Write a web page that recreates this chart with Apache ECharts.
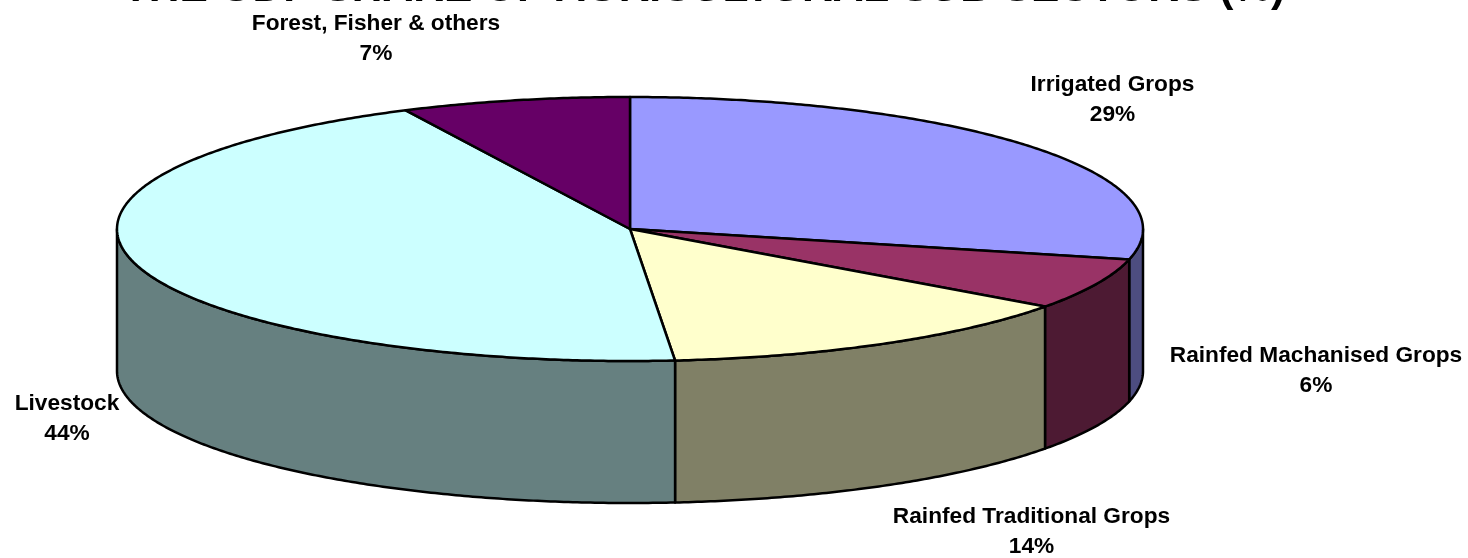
<!DOCTYPE html>
<html>
<head>
<meta charset="utf-8">
<style>
  html, body { margin: 0; padding: 0; background: #fff; }
  #chartBox { width: 1468px; height: 558px; }
</style>
</head>
<body>
<div id="chartBox"></div>
<script src="https://cdn.jsdelivr.net/npm/echarts@6/dist/echarts.min.js"></script>
<script>
const chartTitle = 'THE GDP SHARE OF AGRICULTURAL SUB SECTORS (%)';
const sectorNames = ['Irrigated Grops', 'Rainfed Machanised Grops', 'Rainfed Traditional Grops', 'Livestock', 'Forest, Fisher & others'];
const sectorValues = [28.7, 6.3, 13.6, 44.2, 7.2];

const topColors = ['#9999FF', '#993366', '#FFFFCC', '#CCFFFF', '#660066'];
const sideColors = ['#4D4D80', '#4D1A33', '#808066', '#668080', '#330033'];
// label centres
const labelSpots = [[1112.5, 100], [1316, 371], [1031.5, 532], [67, 419], [376, 38.5]];

const cx = 630, cy = 229, rx = 513, ry = 132, depth = 142;
const total = sectorValues.reduce((a, b) => a + b, 0);

// angle is clockwise from 12 o'clock, in degrees
function toAngle(v) {
  return echarts.number.linearMap(v, [0, total], [0, 360]);
}
function rimPoint(deg, drop) {
  const t = deg * Math.PI / 180;
  return [cx + rx * Math.sin(t), cy - ry * Math.cos(t) + drop];
}
function arcPoints(from, to, drop) {
  const pts = [];
  const steps = Math.max(2, Math.ceil(Math.abs(to - from) * 2));
  for (let i = 0; i <= steps; i++) {
    pts.push(rimPoint(from + (to - from) * i / steps, drop));
  }
  return pts;
}

function renderSlice(params, api) {
  const i = params.dataIndex;
  const before = sectorValues.slice(0, i).reduce((a, b) => a + b, 0);
  const start = toAngle(before);
  const end = toAngle(before + api.value(0));
  const children = [];
  const line = { stroke: '#000', lineWidth: 2.5, lineJoin: 'round' };

  // front wall only shows between 90 and 270 degrees
  const wallFrom = Math.max(start, 90), wallTo = Math.min(end, 270);
  if (wallTo > wallFrom) {
    const upper = arcPoints(wallFrom, wallTo, 0);
    const lower = arcPoints(wallTo, wallFrom, depth);
    children.push({
      type: 'polygon',
      shape: { points: upper.concat(lower) },
      style: Object.assign({ fill: sideColors[i] }, line)
    });
  }
  children.push({
    type: 'polygon',
    shape: { points: [[cx, cy]].concat(arcPoints(start, end, 0)) },
    style: Object.assign({ fill: topColors[i] }, line)
  });
  children.push({
    type: 'text',
    x: labelSpots[i][0],
    y: labelSpots[i][1],
    style: {
      x: 0,
      y: 0,
      text: sectorNames[i] + '\n' + Math.round(api.value(0)) + '%',
      fill: '#000',
      font: 'bold 22.7px "Liberation Sans", Arial, sans-serif',
      lineHeight: 30,
      align: 'center',
      verticalAlign: 'middle'
    }
  });
  return { type: 'group', children: children };
}

const myChart = echarts.init(document.getElementById('chartBox'));
myChart.setOption({
  animation: false,
  backgroundColor: '#fff',
  title: {
    text: chartTitle,
    left: 699,
    top: -37,
    textAlign: 'center',
    textStyle: {
      color: '#000',
      fontFamily: '"Liberation Sans", Arial, sans-serif',
      fontWeight: 'bold',
      fontSize: 42.5
    }
  },
  series: [{
    type: 'custom',
    coordinateSystem: 'none',
    renderItem: renderSlice,
    data: sectorValues.map((v, i) => ({ name: sectorNames[i], value: [v] }))
  }]
});
</script>
</body>
</html>
